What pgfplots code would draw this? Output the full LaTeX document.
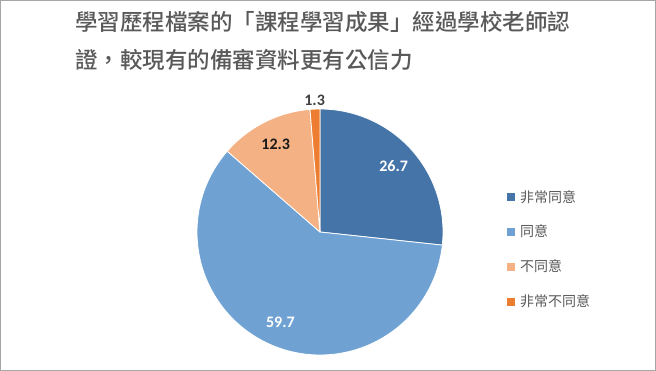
\documentclass[border=0pt]{standalone}
\usepackage{pgfplots}
\pgfplotsset{compat=1.18}
\usepackage{fontspec}
\setmainfont{Carlito}
\newfontfamily\cjk{Noto Sans CJK TC}
\newfontfamily\cjkm{Noto Sans CJK TC Medium}
\definecolor{cA}{HTML}{4574A8}
\definecolor{cB}{HTML}{6FA2D3}
\definecolor{cC}{HTML}{F4B183}
\definecolor{cD}{HTML}{ED7D31}
\definecolor{txt}{HTML}{595959}
% data (percent)
\def\vA{26.7}\def\vB{59.7}\def\vC{12.3}\def\vD{1.3}
\pgfmathsetmacro\aO{90}
\pgfmathsetmacro\aA{\aO-3.6*\vA}
\pgfmathsetmacro\aB{\aA-3.6*\vB}
\pgfmathsetmacro\aC{\aB-3.6*\vC}
\pgfmathsetmacro\aD{\aC-3.6*\vD}
\pgfmathsetmacro\mA{(\aO+\aA)/2}
\pgfmathsetmacro\mB{(\aA+\aB)/2}
\pgfmathsetmacro\mC{(\aB+\aC)/2}
\pgfmathsetmacro\mD{(\aC+\aD)/2}
\def\R{123}
\begin{document}
\begin{tikzpicture}
\begin{axis}[
  scale only axis, width=656bp, height=371bp,
  xmin=-320, xmax=336, ymin=-139, ymax=232,
  hide axis, clip=false,
  legend style={draw=none, fill=none, at={(axis cs:187,44)}, anchor=north west,
    font=\cjk\fontsize{14bp}{16bp}\selectfont, text=txt, row sep=17.5bp,
    inner sep=0pt, nodes={inner sep=2bp}},
  legend cell align=left,
  legend image code/.code={\fill[#1,draw=none] (0bp,-4bp) rectangle (8bp,4bp);},
]
\draw[black!35, line width=1bp] (axis cs:-319.5,-138.5) rectangle (axis cs:335.5,231.5);
\addplot[fill=cA, draw=white, line width=0.8bp, data cs=polar, domain=\aA:\aO, samples=60]
  (x,\R) -- (axis cs:0,0) -- cycle;
\addlegendentry{\hspace{3bp}非常同意}
\addplot[fill=cB, draw=white, line width=0.8bp, data cs=polar, domain=\aB:\aA, samples=120]
  (x,\R) -- (axis cs:0,0) -- cycle;
\addlegendentry{\hspace{3bp}同意}
\addplot[fill=cC, draw=white, line width=0.8bp, data cs=polar, domain=\aC:\aB, samples=30]
  (x,\R) -- (axis cs:0,0) -- cycle;
\addlegendentry{\hspace{3bp}不同意}
\addplot[fill=cD, draw=white, line width=0.8bp, data cs=polar, domain=\aD:\aC, samples=10]
  (x,\R) -- (axis cs:0,0) -- cycle;
\addlegendentry{\hspace{3bp}非常不同意}
% data labels
\node[text=white, font=\bfseries\fontsize{16bp}{18bp}\selectfont] at (axis cs:{99*cos(\mA)},{99*sin(\mA)}) {\vA};
\node[text=white, font=\bfseries\fontsize{16bp}{18bp}\selectfont] at (axis cs:{99*cos(\mB)},{99*sin(\mB)}) {\vB};
\node[text=black!90, font=\bfseries\fontsize{16bp}{18bp}\selectfont] at (axis cs:{98*cos(\mC)},{98*sin(\mC)}) {\vC};
\node[text=black!75, font=\bfseries\fontsize{16bp}{18bp}\selectfont] at (axis cs:{132*cos(\mD)},{132*sin(\mD)}) {\vD};
% title
\node[anchor=west, inner sep=0pt, text=txt, font=\cjkm\fontsize{22.5bp}{26bp}\selectfont] at (axis cs:-245,210) {學習歷程檔案的「課程學習成果」經過學校老師認};
\node[anchor=west, inner sep=0pt, text=txt, font=\cjkm\fontsize{22.5bp}{26bp}\selectfont] at (axis cs:-245,172) {證，較現有的備審資料更有公信力};
\end{axis}
\end{tikzpicture}
\end{document}
